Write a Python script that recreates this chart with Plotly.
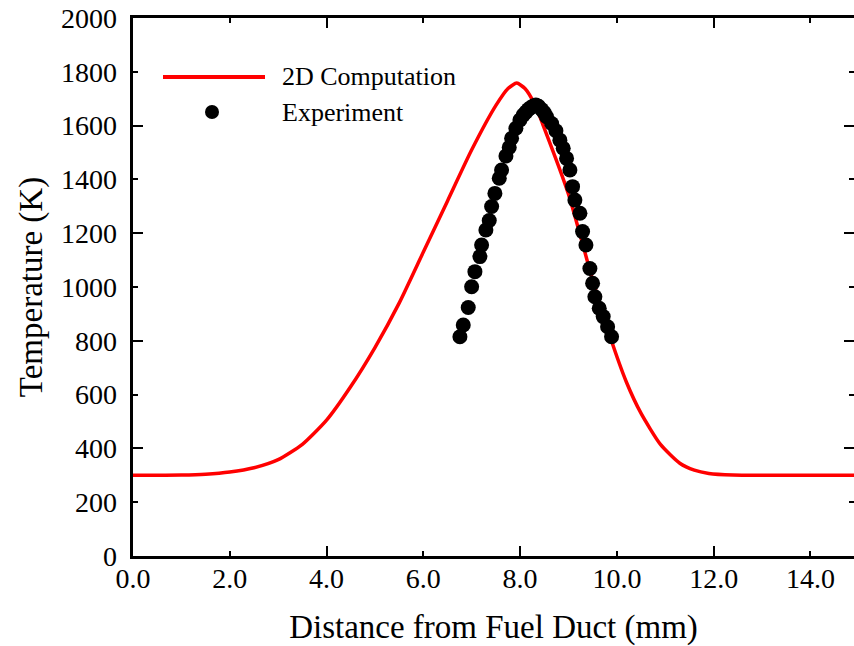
import plotly.graph_objects as go

# 2D computation curve
comp_x = [0.0, 1.0, 1.5, 2.0, 2.5, 3.0, 3.5, 4.0, 4.5, 5.0, 5.5, 6.0, 6.5, 7.0, 7.5,
          7.75, 7.93, 8.1, 8.3, 8.5, 9.0, 9.5, 9.86, 10.2, 10.5, 10.9, 11.3, 11.6, 11.9, 12.4, 13.0, 14.9]
comp_t = [300, 301, 304, 312, 328, 358, 415, 505, 630, 775, 940, 1130, 1320, 1510, 1675,
          1738, 1758, 1738, 1680, 1590, 1345, 1025, 815, 645, 530, 415, 345, 319, 307, 301, 300, 300]

# Experiment points
exp_x = [6.756, 6.825, 6.928, 6.998, 7.066, 7.169, 7.204, 7.293, 7.362, 7.411, 7.479, 7.569,
         7.617, 7.707, 7.775, 7.824, 7.913, 7.996, 8.064, 8.12, 8.168, 8.22, 8.271, 8.326, 8.38,
         8.444, 8.5, 8.547, 8.651, 8.740, 8.822, 8.891, 8.960, 9.029, 9.084, 9.132, 9.236,
         9.291, 9.360, 9.442, 9.498, 9.545, 9.635, 9.717, 9.808, 9.890]
exp_t = [815, 859, 924, 1001, 1057, 1113, 1156, 1212, 1247, 1299, 1348, 1404,
         1435, 1487, 1519, 1553, 1590, 1621, 1639, 1650, 1660, 1667, 1673, 1677, 1672,
         1660, 1648, 1633, 1608, 1581, 1546, 1516, 1478, 1435, 1373, 1323, 1274,
         1206, 1156, 1069, 1014, 964, 921, 890, 852, 815]

x_title = "Distance from Fuel Duct (mm)"
y_title = "Temperature (K)"
legend_names = ["2D Computation", "Experiment"]

FONT = "Liberation Serif"
W, H = 854, 646
ML, MR, MT, MB = 133, 0, 18, 90

fig = go.Figure()
fig.add_trace(go.Scatter(x=comp_x, y=comp_t, mode="lines",
                         line=dict(color="#ff0000", width=3.5, shape="spline", smoothing=0.6),
                         name=legend_names[0], showlegend=False, xaxis="x", yaxis="y"))
fig.add_trace(go.Scatter(x=exp_x, y=exp_t, mode="markers",
                         marker=dict(color="black", size=15, line=dict(width=0)),
                         name=legend_names[1], showlegend=False, xaxis="x2", yaxis="y2"))

XR = [0, 14.9]
YR = [0, 2000]

fig.update_layout(
    width=W, height=H, margin=dict(l=ML, r=MR, t=MT, b=MB, autoexpand=False),
    paper_bgcolor="white", plot_bgcolor="white",
    font=dict(family=FONT, color="black", size=28),
    xaxis=dict(range=XR, showgrid=False, zeroline=False, showline=True, linecolor="black",
               linewidth=3, mirror="ticks", ticks="inside", dtick=4, tick0=0, ticklen=10,
               tickwidth=2, tickcolor="black", showticklabels=False, automargin=False,
               minor=dict(ticks="inside", dtick=2, tick0=0, ticklen=5, tickwidth=2,
                          tickcolor="black", showgrid=False)),
    yaxis=dict(range=YR, showgrid=False, zeroline=False, showline=True, linecolor="black",
               linewidth=3, mirror="ticks", ticks="inside", dtick=400, tick0=0, ticklen=10,
               tickwidth=2, tickcolor="black", showticklabels=False, automargin=False,
               minor=dict(ticks="inside", dtick=200, tick0=0, ticklen=5, tickwidth=2,
                          tickcolor="black", showgrid=False)),
    xaxis2=dict(range=XR, overlaying="x", anchor="y", side="bottom", showgrid=False,
                zeroline=False, showline=False, ticks="", dtick=2, tick0=0, automargin=False,
                tickformat=".1f", tickfont=dict(size=28, family=FONT), ticklabelstandoff=3,
                title=dict(text=x_title, font=dict(size=33, family=FONT), standoff=22)),
    yaxis2=dict(range=YR, overlaying="y", anchor="x", side="left", showgrid=False,
                zeroline=False, showline=False, ticks="", dtick=200, tick0=0, automargin=False,
                tickfont=dict(size=28, family=FONT), ticklabelstandoff=15,
                title=dict(text=y_title, font=dict(size=33, family=FONT), standoff=8)),
)

# manual legend (paper coordinates)
pw = W - ML - MR
ph = H - MT - MB
def px2x(px):
    return (px - ML) / pw
def py2y(py):
    return 1 - (py - MT) / ph

fig.add_shape(type="line", xref="paper", yref="paper", x0=px2x(163), x1=px2x(265),
              y0=py2y(77), y1=py2y(77), line=dict(color="#ff0000", width=4))
fig.add_shape(type="circle", xref="paper", yref="paper", x0=px2x(205), x1=px2x(219),
              y0=py2y(119), y1=py2y(105), fillcolor="black", line=dict(width=0))
fig.add_annotation(xref="paper", yref="paper", x=px2x(280), y=py2y(77), text=legend_names[0],
                   showarrow=False, xanchor="left", yanchor="middle", font=dict(size=26, family=FONT))
fig.add_annotation(xref="paper", yref="paper", x=px2x(280), y=py2y(112), text=legend_names[1],
                   showarrow=False, xanchor="left", yanchor="middle", font=dict(size=26, family=FONT))

fig.write_html("out.html", config={"displayModeBar": False})

# remove default page margin so the figure sits at the window origin
with open("out.html", "r", encoding="utf-8") as f:
    html = f.read()
html = html.replace("<body>", '<body style="margin:0;padding:0;overflow:hidden">', 1)
with open("out.html", "w", encoding="utf-8") as f:
    f.write(html)
